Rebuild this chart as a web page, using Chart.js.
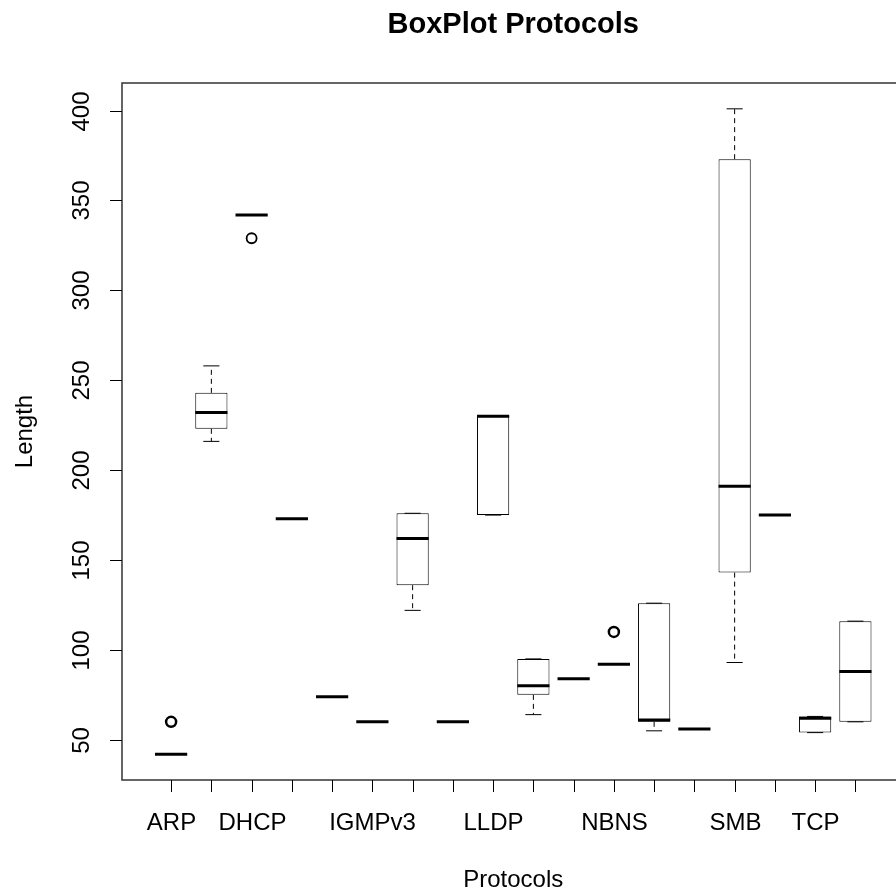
<!DOCTYPE html>
<html>
<head>
<meta charset="utf-8">
<script src="https://cdn.jsdelivr.net/npm/chart.js@4.4.0/dist/chart.umd.min.js"></script>
<style>
  html, body { margin: 0; padding: 0; background: #fff; overflow: hidden; width: 896px; height: 891px; }
  canvas { display: block; }
</style>
</head>
<body>
<canvas id="boxchart" width="912" height="891"></canvas>
<script>
// protocols, sorted like R does (alphabetical); some labels get dropped when they overlap
const categories = ['ARP', 'BROWSER', 'DHCP', 'DHCPv6', 'ICMPv6', 'IGMPv3', 'LANMAN', 'LLC', 'LLDP',
                    'LLMNR', 'MDNS', 'NBNS', 'NBSS', 'RIPv2', 'SMB', 'SSDP', 'TCP', 'UDP'];

// five number summary per protocol (frame length)
const lowWhisker    = [42, 216, 342, 173, 74, 60, 122, 60, 175, 64, 84, 92, 55, 56,  93, 175, 54,  60];
const lowerQuartile = [42, 223, 342, 173, 74, 60, 136, 60, 175, 75, 84, 92, 60, 56, 143, 175, 54,  60];
const medians       = [42, 232, 342, 173, 74, 60, 162, 60, 230, 80, 84, 92, 61, 56, 191, 175, 62,  88];
const upperQuartile = [42, 243, 342, 173, 74, 60, 176, 60, 230, 95, 84, 92, 126, 56, 373, 175, 63, 116];
const highWhisker   = [42, 258, 342, 173, 74, 60, 176, 60, 230, 95, 84, 92, 126, 56, 401, 175, 63, 116];

// outliers: category index + value
const outlierCategory = [0, 2, 11];
const outlierValues   = [60, 329, 110];

const yTicks = [50, 100, 150, 200, 250, 300, 350, 400];

const FONT = '"Liberation Sans", Arial, Helvetica, sans-serif';

function rLine(ctx, x1, y1, x2, y2) {
    ctx.beginPath();
    ctx.moveTo(x1, y1);
    ctx.lineTo(x2, y2);
    ctx.stroke();
}

// whiskers, staples and medians
const boxParts = {
    id: 'boxParts',
    afterDatasetsDraw(chart) {
        const ctx = chart.ctx;
        const x = chart.scales.x, y = chart.scales.y;
        ctx.save();
        ctx.strokeStyle = '#000';
        categories.forEach((c, i) => {
            const cx = x.getPixelForValue(i);
            const half = x.getPixelForValue(i + 0.4) - cx;
            ctx.lineWidth = 1;
            ctx.setLineDash([5, 4]);
            if (highWhisker[i] > upperQuartile[i])
                rLine(ctx, cx, y.getPixelForValue(upperQuartile[i]), cx, y.getPixelForValue(highWhisker[i]));
            if (lowWhisker[i] < lowerQuartile[i])
                rLine(ctx, cx, y.getPixelForValue(lowerQuartile[i]), cx, y.getPixelForValue(lowWhisker[i]));
            ctx.setLineDash([]);
            rLine(ctx, cx - half / 2, y.getPixelForValue(highWhisker[i]), cx + half / 2, y.getPixelForValue(highWhisker[i]));
            rLine(ctx, cx - half / 2, y.getPixelForValue(lowWhisker[i]), cx + half / 2, y.getPixelForValue(lowWhisker[i]));
            ctx.lineWidth = 3;
            rLine(ctx, cx - half, y.getPixelForValue(medians[i]), cx + half, y.getPixelForValue(medians[i]));
        });
        ctx.restore();
    }
};

// base-graphics style frame, axes and titles
const rAxes = {
    id: 'rAxes',
    afterDraw(chart) {
        const ctx = chart.ctx;
        const a = chart.chartArea;
        const x = chart.scales.x, y = chart.scales.y;
        ctx.save();
        ctx.strokeStyle = '#333';
        ctx.lineWidth = 1.5;
        ctx.strokeRect(a.left, a.top, a.right - a.left, a.bottom - a.top);

        ctx.lineWidth = 1;
        ctx.strokeStyle = '#000';
        ctx.fillStyle = '#000';
        // x axis
        ctx.font = '24px ' + FONT;
        ctx.textAlign = 'center';
        ctx.textBaseline = 'alphabetic';
        const gap = ctx.measureText('m').width;
        let lastRight = -Infinity;
        categories.forEach((c, i) => {
            const px = Math.round(x.getPixelForValue(i)) + 0.5;
            rLine(ctx, px, a.bottom, px, a.bottom + 12);
            const w = ctx.measureText(c).width;
            if (px - w / 2 >= lastRight + gap) {
                ctx.fillText(c, px, 830);
                lastRight = px + w / 2;
            }
        });
        // y axis
        yTicks.forEach(v => {
            const py = Math.round(y.getPixelForValue(v)) + 0.5;
            rLine(ctx, a.left - 12, py, a.left, py);
            ctx.save();
            ctx.translate(88.5, py);
            ctx.rotate(-Math.PI / 2);
            ctx.fillText(String(v), 0, 0);
            ctx.restore();
        });
        // titles
        const mid = (a.left + a.right) / 2;
        ctx.fillText('Protocols', mid, 887);
        ctx.save();
        ctx.translate(32, (a.top + a.bottom) / 2);
        ctx.rotate(-Math.PI / 2);
        ctx.fillText('Length', 0, 0);
        ctx.restore();
        ctx.font = 'bold 29px ' + FONT;
        ctx.fillText('BoxPlot Protocols', mid, 33);
        ctx.restore();
    }
};

const ctx = document.getElementById('boxchart').getContext('2d');

new Chart(ctx, {
    type: 'bar',
    data: {
        datasets: [{
            type: 'bar',
            data: categories.map((c, i) => ({x: i, y: [lowerQuartile[i], upperQuartile[i]]})),
            backgroundColor: '#fff',
            borderColor: '#000',
            borderWidth: 1,
            borderSkipped: false,
            barPercentage: 1,
            categoryPercentage: 0.8,
            order: 2
        }, {
            type: 'scatter',
            data: outlierCategory.map((c, k) => ({x: c, y: outlierValues[k]})),
            pointRadius: 5,
            pointBorderWidth: [2.5, 1.8, 2.5],
            pointBackgroundColor: 'rgba(0,0,0,0)',
            pointBorderColor: '#000',
            order: 1
        }]
    },
    options: {
        responsive: false,
        animation: false,
        devicePixelRatio: 1,
        layout: {padding: {left: 122, right: 6, top: 83, bottom: 111}},
        plugins: {legend: {display: false}, tooltip: {enabled: false}},
        scales: {
            x: {type: 'linear', min: -1.22, max: 18.22, offset: false, grid: {offset: false}, display: false},
            y: {min: 27.64, max: 415.36, display: false}
        }
    },
    plugins: [boxParts, rAxes]
});
</script>
</body>
</html>
